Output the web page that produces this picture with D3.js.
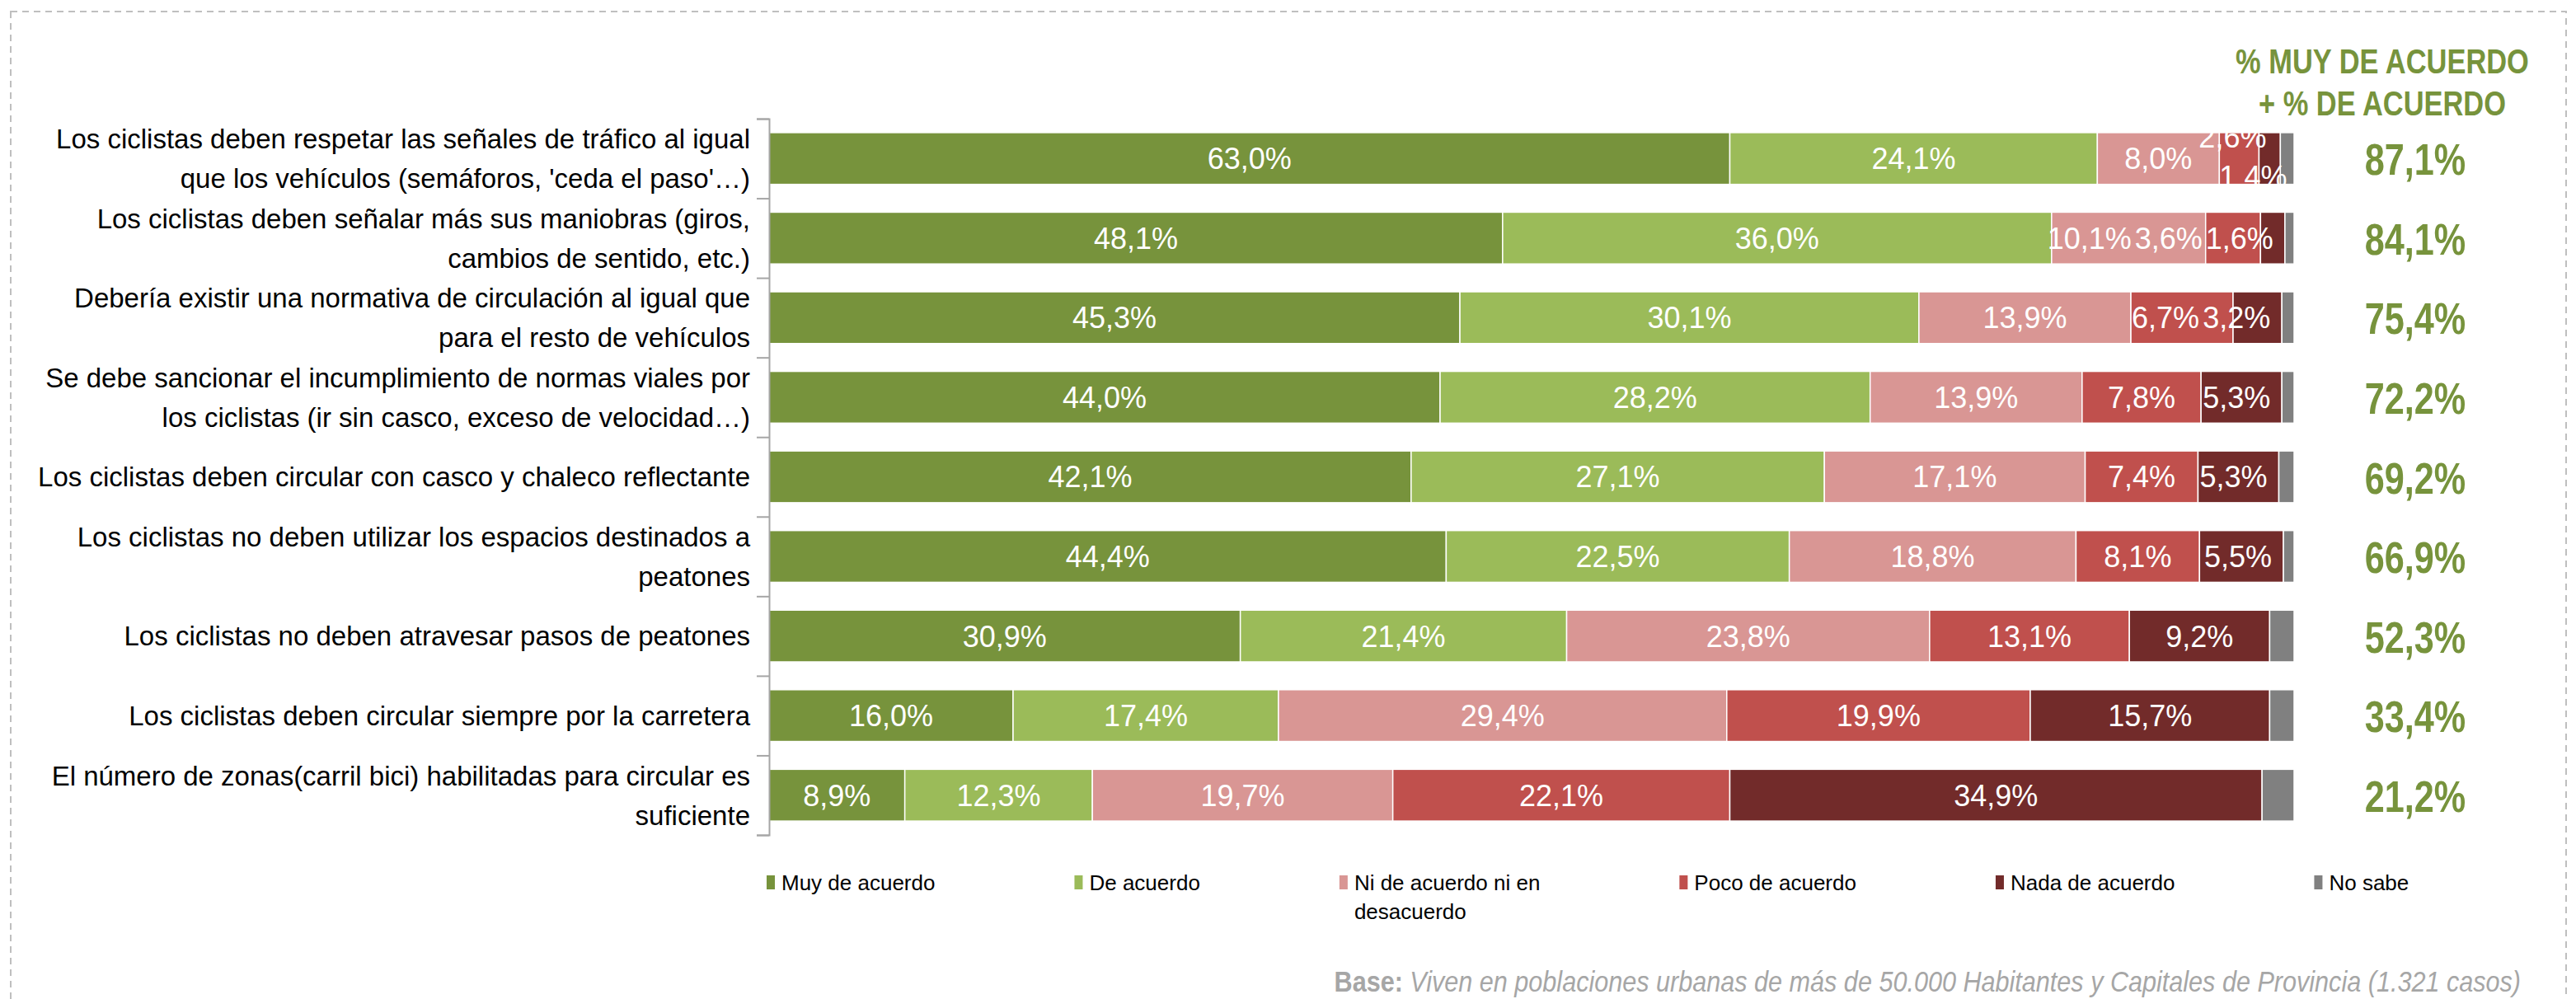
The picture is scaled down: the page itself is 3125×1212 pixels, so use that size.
<!DOCTYPE html>
<html>
<head>
<meta charset="utf-8">
<script src="https://cdn.jsdelivr.net/npm/d3@7/dist/d3.min.js"></script>
<style>
  html, body { margin: 0; padding: 0; background: #fff; }
  svg { display: block; }
  .reg { font-family: "Liberation Sans", Arial, Helvetica, sans-serif; }
</style>
</head>
<body>
<svg id="chart" width="3125" height="1212"></svg>
<script>
// ---------------- DATA ----------------
const categories = [
  "Los ciclistas deben respetar las señales de tráfico al igual\nque los vehículos (semáforos, 'ceda el paso'…)",
  "Los ciclistas deben señalar más sus maniobras (giros,\ncambios de sentido, etc.)",
  "Debería existir una normativa de circulación al igual que\npara el resto de vehículos",
  "Se debe sancionar el incumplimiento de normas viales por\nlos ciclistas (ir sin casco, exceso de velocidad…)",
  "Los ciclistas deben circular con casco y chaleco reflectante",
  "Los ciclistas no deben utilizar los espacios destinados a\npeatones",
  "Los ciclistas no deben atravesar pasos de peatones",
  "Los ciclistas deben circular siempre por la carretera",
  "El número de zonas(carril bici) habilitadas para circular es\nsuficiente"
];
const seriesNames = [
  "Muy de acuerdo",
  "De acuerdo",
  "Ni de acuerdo ni en\ndesacuerdo",
  "Poco de acuerdo",
  "Nada de acuerdo",
  "No sabe"
];
const muyDeAcuerdo  = [63.0, 48.1, 45.3, 44.0, 42.1, 44.4, 30.9, 16.0, 8.9];
const deAcuerdo     = [24.1, 36.0, 30.1, 28.2, 27.1, 22.5, 21.4, 17.4, 12.3];
const niNi          = [8.0, 10.1, 13.9, 13.9, 17.1, 18.8, 23.8, 29.4, 19.7];
const pocoDeAcuerdo = [2.6, 3.6, 6.7, 7.8, 7.4, 8.1, 13.1, 19.9, 22.1];
const nadaDeAcuerdo = [1.4, 1.6, 3.2, 5.3, 5.3, 5.5, 9.2, 15.7, 34.9];
const noSabe        = [0.9, 0.6, 0.8, 0.8, 1.0, 0.7, 1.6, 1.6, 2.1];
const totalLabels   = ["87,1%", "84,1%", "75,4%", "72,2%", "69,2%", "66,9%", "52,3%", "33,4%", "21,2%"];
const titleLines    = ["% MUY DE ACUERDO", "+ % DE ACUERDO"];
const baseBold      = "Base:";
const baseText      = " Viven en poblaciones urbanas de más de 50.000 Habitantes y Capitales de Provincia (1.321 casos)";

// ---------------- STYLE ----------------
const colors = ["#77933C", "#9BBB59", "#D99694", "#C0504D", "#722B2A", "#808080"];
const green = "#77933C";

const svg = d3.select("#chart");

// dashed frame
svg.append("rect")
  .attr("x", 13).attr("y", 14).attr("width", 3100).attr("height", 1300)
  .attr("fill", "none").attr("stroke", "#BFBFBF").attr("stroke-width", 2)
  .attr("stroke-dasharray", "8,6");

const seriesVals = [muyDeAcuerdo, deAcuerdo, niNi, pocoDeAcuerdo, nadaDeAcuerdo, noSabe];
const rows = categories.map((c, i) => {
  const r = { cat: c, idx: i };
  seriesNames.forEach((s, j) => r["s" + j] = seriesVals[j][i]);
  return r;
});
const keys = seriesNames.map((s, j) => "s" + j);
const stacked = d3.stack().keys(keys)(rows);

const y0 = 144, y1 = 1013;
const x = d3.scaleLinear().domain([0, 100]).range([933, 2783]);
const y = d3.scaleBand().domain(d3.range(categories.length)).range([y0, y1])
  .paddingInner(0.35).paddingOuter(0.175);

// condensed text helper (emulates a narrow face)
function narrowText(parent, px, py, sx, size, weight) {
  return parent.append("g").attr("transform", `translate(${px},${py}) scale(${sx},1)`)
    .append("text").attr("class", "reg").attr("x", 0).attr("y", 0)
    .attr("font-size", size).attr("font-weight", weight || "normal");
}

// bars
const g = svg.append("g");
stacked.forEach((layer, j) => {
  g.append("g").selectAll("rect").data(layer).join("rect")
    .attr("x", d => x(d[0]))
    .attr("y", (d, i) => y(i))
    .attr("width", d => Math.max(0, x(d[1]) - x(d[0])))
    .attr("height", y.bandwidth())
    .attr("fill", colors[j])
    .attr("stroke", "#FFFFFF").attr("stroke-width", 1.5);
});

// axis with ticks on band boundaries
const yTicks = d3.scaleLinear().domain([0, categories.length]).range([y0, y1]);
const axis = svg.append("g").attr("transform", `translate(${x(0)},0)`)
  .call(d3.axisLeft(yTicks).tickValues(d3.range(categories.length + 1)).tickSize(15).tickFormat(""));
axis.selectAll("path,line").attr("stroke", "#A6A6A6").attr("stroke-width", 2);

// category labels
const catFont = 33, catLH = 48;
categories.forEach((c, i) => {
  const lines = c.split("\n");
  const cy = y(i) + y.bandwidth() / 2;
  const t = svg.append("text").attr("class", "reg")
    .attr("text-anchor", "end").attr("font-size", catFont).attr("fill", "#000");
  lines.forEach((ln, k) => {
    t.append("tspan").attr("x", 910)
      .attr("y", cy + (k - (lines.length - 1) / 2) * catLH + catFont * 0.36)
      .text(ln);
  });
});

// value labels (first 5 series)
const fmt = v => v.toFixed(1).replace(".", ",") + "%";
const valFont = 36;
const measurer = svg.append("text").attr("class", "reg").attr("font-size", valFont).attr("opacity", 0);
function tw(s) { measurer.text(s); return measurer.node().getComputedTextLength(); }

rows.forEach((r, i) => {
  const cy = y(i) + y.bandwidth() / 2;
  const labs = [];
  for (let j = 0; j < 5; j++) {
    const seg = stacked[j][i];
    const txt = fmt(seriesVals[j][i]);
    labs.push({ j, txt, w: tw(txt), c: (x(seg[0]) + x(seg[1])) / 2, dy: 0, small: seriesVals[j][i] < 3 });
  }
  // vertical stagger for consecutive tiny segments
  let stag = false;
  for (let k = 1; k < labs.length; k++) {
    if (labs[k].small && labs[k - 1].small) { labs[k - 1].dy = -26; labs[k].dy = 22; labs[k].c -= 20; labs[k - 1].c -= 8; stag = true; }
  }
  if (!stag) {
    // push-left collision resolution from the right end
    let limit = x(d3.sum(labs, (l, k) => seriesVals[k][i])) - 14;
    for (let k = labs.length - 1; k >= 0; k--) {
      const l = labs[k];
      let right = l.c + l.w / 2;
      if (right > limit) { right = limit; l.c = right - l.w / 2; }
      limit = l.c - l.w / 2 - 4;
    }
  }
  labs.forEach(l => {
    svg.append("text").attr("class", "reg")
      .attr("x", l.c).attr("y", cy + l.dy + valFont * 0.36)
      .attr("text-anchor", "middle").attr("font-size", valFont)
      .attr("fill", "#FFFFFF").text(l.txt);
  });
});
measurer.remove();

// totals column
totalLabels.forEach((t, i) => {
  narrowText(svg, 2930, y(i) + y.bandwidth() / 2 + 20, 0.8, 54, "bold")
    .attr("text-anchor", "middle").attr("fill", green).text(t);
});

// title
titleLines.forEach((t, k) => {
  narrowText(svg, 2890, 89 + k * 51, 0.82, 42, "bold")
    .attr("text-anchor", "middle").attr("fill", green).text(t);
});

// legend
const legFont = 26, legGap = 169;
let lx = 930;
seriesNames.forEach((s, j) => {
  const lg = svg.append("g");
  lg.append("rect").attr("x", lx).attr("y", 1062).attr("width", 10).attr("height", 17).attr("fill", colors[j]);
  const t = lg.append("text").attr("class", "reg").attr("font-size", legFont).attr("fill", "#000");
  const lines = s.split("\n");
  lines.forEach((ln, k) => t.append("tspan").attr("x", lx + 18).attr("y", 1080 + k * 35).text(ln));
  let mw = 0;
  t.selectAll("tspan").each(function () { mw = Math.max(mw, this.getComputedTextLength()); });
  lx = lx + 18 + mw + legGap;
});

// base note
const bt = narrowText(svg, 3058, 1203, 0.85, 36, "normal")
  .attr("text-anchor", "end").attr("fill", "#A6A6A6");
bt.append("tspan").attr("font-weight", "bold").text(baseBold);
bt.append("tspan").attr("font-style", "italic").text(baseText);
</script>
</body>
</html>
